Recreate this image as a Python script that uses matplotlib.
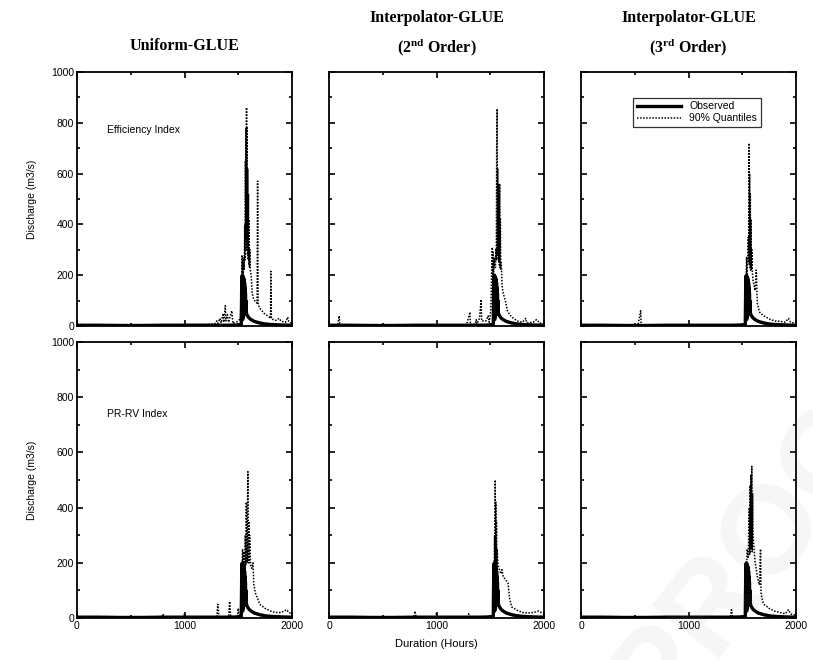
import numpy as np
import matplotlib
matplotlib.use("Agg")
import matplotlib.pyplot as plt
from matplotlib.ticker import MultipleLocator

plt.rcParams['font.family'] = ['Liberation Sans', 'DejaVu Sans']
plt.rcParams['mathtext.fontset'] = 'custom'
plt.rcParams['mathtext.rm'] = 'Liberation Serif:bold'
plt.rcParams['mathtext.bf'] = 'Liberation Serif:bold'

# column titles and row labels
col_titles = ["Uniform-GLUE",
              "Interpolator-GLUE\n(2$^{\\mathbf{nd}}$ Order)",
              "Interpolator-GLUE\n(3$^{\\mathbf{rd}}$ Order)"]
row_labels = ["Efficiency Index", "PR-RV Index"]

# observed discharge (hours, m3/s)
t_obs = [0, 200, 400, 600, 800, 1000, 1200, 1400, 1500, 1528, 1532, 1535, 1537, 1539,
         1541, 1543, 1545, 1547, 1549, 1551, 1553, 1555, 1557, 1559, 1561, 1563, 1565,
         1567, 1569, 1571, 1573, 1576, 1580, 1590, 1600, 1620, 1650, 1700, 1750, 1800,
         1900, 2000]
q_obs = [3, 3, 2, 2, 3, 3, 3, 3, 4, 5, 150, 195, 30, 200,
         25, 195, 35, 192, 40, 188, 45, 180, 55, 170, 60, 150, 65,
         130, 60, 100, 58, 52, 45, 38, 32, 25, 18, 12, 8, 6,
         4, 3]

# lower 90% quantile (shared)
t_low = [0, 500, 1000, 1500, 1530, 1540, 1550, 1560, 1570, 1580, 1600, 1650, 1700, 1800, 1900, 2000]
q_low = [1, 1, 1, 2, 3, 80, 120, 100, 60, 40, 28, 15, 9, 5, 3, 2]

# upper 90% quantile, one per panel
t_up_a = [0, 300, 600, 900, 1200, 1280, 1300, 1310, 1330, 1340, 1360, 1365, 1380, 1385,
          1400, 1410, 1440, 1450, 1480, 1500, 1520, 1530, 1534, 1538, 1542, 1546, 1550,
          1556, 1560, 1563, 1566, 1569, 1572, 1575, 1577, 1580, 1583, 1586, 1589, 1592,
          1595, 1598, 1601, 1604, 1608, 1612, 1620, 1630, 1640, 1660, 1675, 1680, 1685,
          1700, 1740, 1780, 1800, 1804, 1808, 1850, 1880, 1900, 1940, 1960, 1970, 2000]
q_up_a = [4, 5, 5, 5, 6, 8, 20, 10, 30, 12, 50, 15, 80, 20,
          45, 15, 60, 10, 15, 20, 30, 150, 280, 200, 270, 150, 260,
          220, 400, 260, 650, 300, 780, 350, 860, 300, 780, 280, 620, 260,
          520, 240, 420, 230, 300, 220, 200, 130, 110, 95, 90, 570, 85,
          70, 50, 38, 30, 215, 28, 22, 30, 18, 15, 35, 18, 10]

t_up_b = [0, 80, 95, 100, 500, 1000, 1280, 1311, 1315, 1360, 1370, 1375, 1400, 1415,
          1420, 1460, 1480, 1490, 1505, 1515, 1519, 1523, 1527, 1531, 1540, 1548, 1552,
          1556, 1560, 1564, 1567, 1570, 1573, 1576, 1579, 1582, 1585, 1588, 1591, 1594,
          1598, 1602, 1610, 1620, 1640, 1660, 1680, 1700, 1750, 1800, 1830, 1840, 1900,
          1930, 1960, 2000]
q_up_b = [3, 3, 40, 3, 4, 4, 5, 55, 5, 8, 25, 8, 30, 105,
          20, 20, 40, 15, 60, 250, 310, 200, 290, 210, 270, 230, 300,
          260, 700, 855, 280, 620, 260, 560, 250, 520, 240, 560, 230, 420,
          220, 250, 160, 130, 100, 60, 45, 35, 20, 15, 30, 12, 15,
          25, 12, 8]

t_up_c = [0, 530, 555, 560, 900, 1200, 1500, 1530, 1535, 1540, 1545, 1550, 1556, 1560,
          1563, 1566, 1569, 1572, 1575, 1578, 1581, 1585, 1590, 1594, 1600, 1610, 1620,
          1630, 1640, 1660, 1700, 1750, 1800, 1850, 1900, 1930, 1950, 2000]
q_up_c = [3, 3, 60, 3, 4, 4, 5, 10, 180, 270, 200, 260, 350, 250,
          720, 240, 600, 230, 520, 220, 420, 220, 300, 210, 180, 160, 140,
          220, 90, 55, 40, 28, 20, 18, 15, 30, 15, 10]

t_up_d = [0, 400, 790, 800, 810, 990, 1000, 1010, 1300, 1310, 1320, 1410, 1420, 1430,
          1490, 1500, 1510, 1530, 1540, 1546, 1552, 1560, 1565, 1570, 1575, 1580, 1585,
          1590, 1594, 1598, 1602, 1606, 1615, 1625, 1637, 1645, 1660, 1700, 1750, 1800,
          1850, 1900, 1950, 1970, 2000]
q_up_d = [3, 3, 3, 15, 3, 3, 15, 3, 3, 50, 3, 3, 60, 3,
          3, 35, 5, 20, 250, 180, 240, 180, 300, 190, 420, 200, 380,
          530, 200, 350, 200, 300, 190, 180, 200, 120, 90, 50, 35, 25,
          20, 20, 30, 20, 15]

t_up_e = [0, 500, 790, 800, 810, 990, 1000, 1010, 1290, 1300, 1310, 1500, 1530, 1540,
          1543, 1546, 1549, 1552, 1555, 1558, 1561, 1565, 1570, 1580, 1590, 1600, 1609,
          1620, 1640, 1665, 1680, 1700, 1750, 1800, 1850, 1900, 1950, 2000]
q_up_e = [3, 3, 3, 25, 3, 3, 20, 3, 3, 15, 3, 4, 10, 300,
          200, 500, 190, 420, 190, 350, 190, 250, 200, 180, 170, 160, 175,
          150, 140, 127, 70, 40, 28, 20, 18, 20, 25, 15]

t_up_f = [0, 500, 1000, 1390, 1400, 1410, 1500, 1530, 1545, 1555, 1565, 1569, 1572, 1576,
          1580, 1584, 1589, 1593, 1597, 1600, 1610, 1620, 1630, 1640, 1660, 1670, 1675,
          1690, 1700, 1750, 1800, 1850, 1900, 1930, 1950, 2000]
q_up_f = [3, 3, 4, 4, 30, 4, 5, 10, 250, 220, 400, 230, 480, 240,
          520, 250, 550, 240, 450, 300, 250, 200, 180, 150, 120, 250, 90,
          60, 50, 35, 25, 20, 15, 30, 15, 10]

upper_t = [[t_up_a, t_up_b, t_up_c], [t_up_d, t_up_e, t_up_f]]
upper_q = [[q_up_a, q_up_b, q_up_c], [q_up_d, q_up_e, q_up_f]]

fig = plt.figure(figsize=(8.13, 6.6), dpi=100)
W, H = 813.0, 660.0
col_x = [77, 329, 581]
col_w = 215
row_y = [(72, 326), (342, 618)]

axes = []
for r in range(2):
    for c in range(3):
        top, bot = row_y[r]
        ax = fig.add_axes([col_x[c] / W, 1 - bot / H, col_w / W, (bot - top) / H])
        axes.append(ax)
        ax.plot(t_low, q_low, ls=(0, (1, 1)), color='black', lw=1.1)
        ax.plot(upper_t[r][c], upper_q[r][c], ls=(0, (1, 1)), color='black', lw=1.1,
                label='90% Quantiles' if (r == 0 and c == 2) else None)
        ax.plot(t_obs, q_obs, color='black', lw=2.4,
                label='Observed' if (r == 0 and c == 2) else None)
        ax.set_xlim(0, 2000)
        ax.set_ylim(0, 1000)
        ax.xaxis.set_major_locator(MultipleLocator(1000))
        ax.xaxis.set_minor_locator(MultipleLocator(500))
        ax.yaxis.set_major_locator(MultipleLocator(200))
        ax.yaxis.set_minor_locator(MultipleLocator(100))
        ax.tick_params(which='both', direction='in', top=True, right=True,
                       labelsize=7.5, width=1.2, pad=2)
        ax.tick_params(which='major', length=4)
        ax.tick_params(which='minor', length=2.5)
        for s in ax.spines.values():
            s.set_linewidth(1.3)
        if c == 0:
            ax.set_ylabel('Discharge (m3/s)', fontsize=7.5, labelpad=10)
            ax.text(0.14, 0.77 if r == 0 else 0.74, row_labels[r], transform=ax.transAxes,
                    fontsize=7.5, va='center')
        else:
            ax.tick_params(labelleft=False)
        if r == 0:
            ax.tick_params(labelbottom=False)
        if r == 0 and c == 2:
            h, l = ax.get_legend_handles_labels()
            leg = ax.legend(h[::-1], l[::-1], loc='upper right', bbox_to_anchor=(0.86, 0.92),
                            fontsize=7.5, frameon=True, fancybox=False, edgecolor='black',
                            handlelength=4.2, borderpad=0.35, labelspacing=0.2)
            leg.get_frame().set_linewidth(0.9)

for c in range(3):
    fig.text((col_x[c] + col_w / 2) / W, 1 - (58 if c else 54) / H, col_titles[c],
             ha='center', va='bottom', fontsize=11.5, fontweight='bold',
             family='Liberation Serif', linespacing=1.6)

axes[4].set_xlabel('Duration (Hours)', fontsize=8, labelpad=6)

# faint watermark in the lower right corner, blended over the panels
fig.text(0.95, 0.2, 'PROOF', rotation=52, fontsize=90, color='grey', alpha=0.07,
         ha='center', va='center', fontweight='bold')

fig.savefig('out.png', dpi=100)
